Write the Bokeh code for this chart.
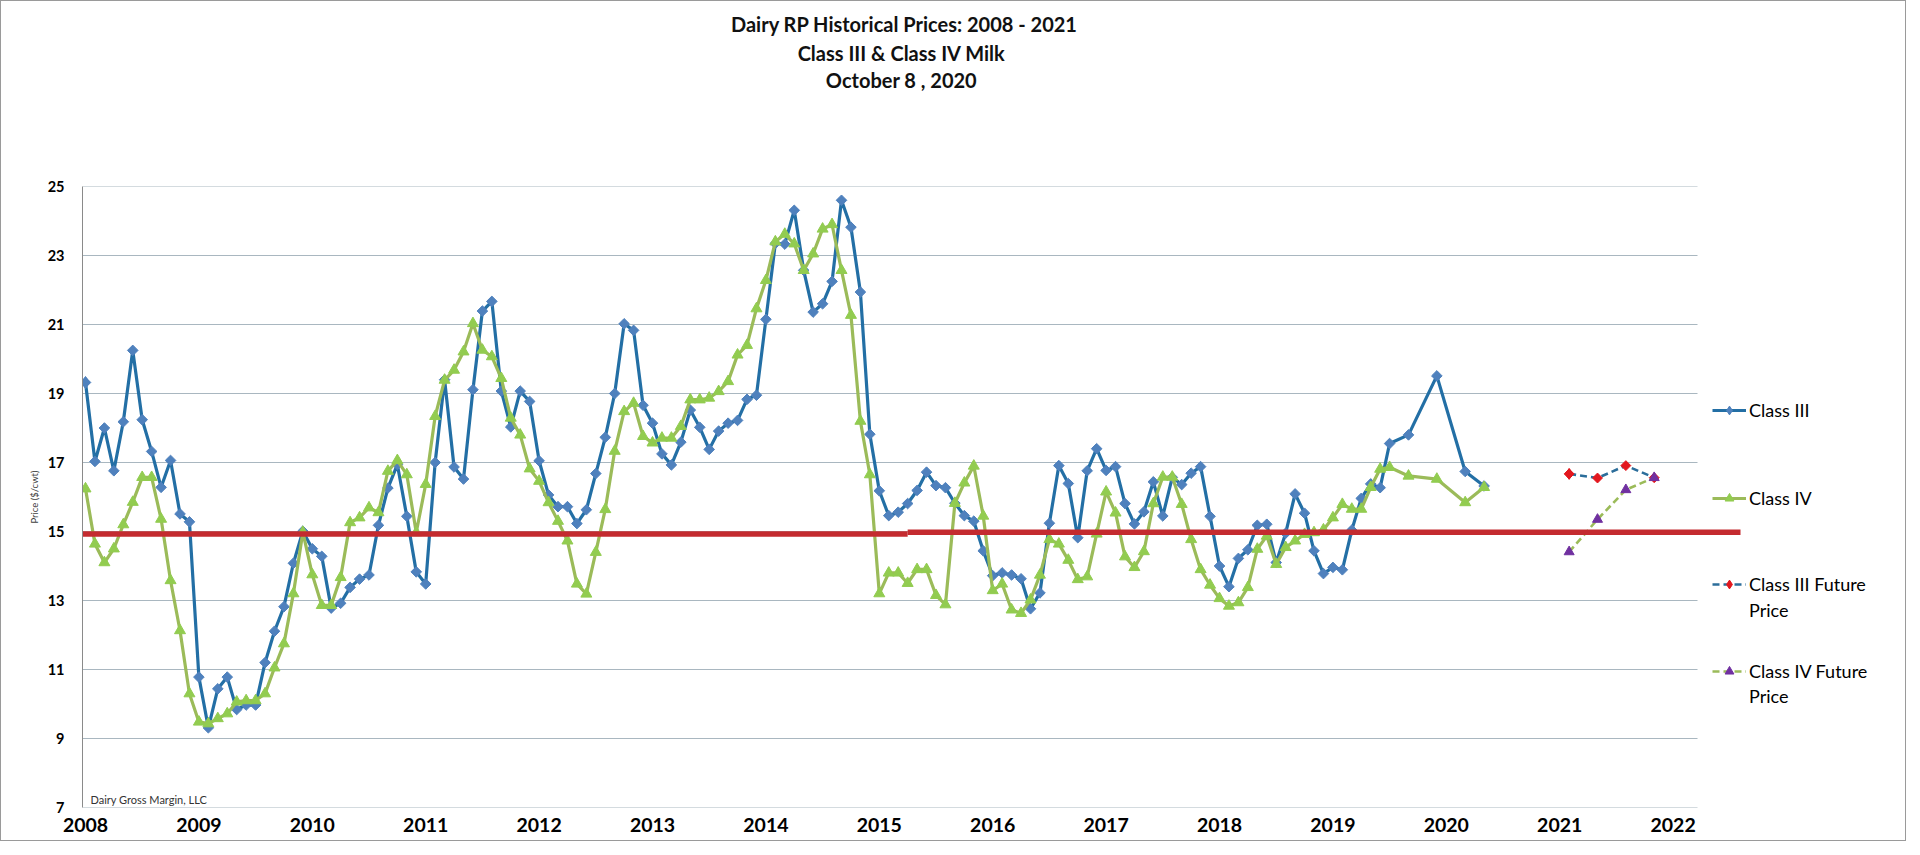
import numpy as np
import pandas as pd
from bokeh.plotting import figure
from bokeh.layouts import column
from bokeh.models import FixedTicker, Legend, LegendItem, Label, Range1d
from bokeh.embed import file_html
from bokeh.resources import INLINE

# ---------------- data ----------------
title_lines = ["Dairy RP Historical Prices: 2008 - 2021",
               "Class III & Class IV Milk",
               "October 8 , 2020"]
credit_text = "Dairy Gross Margin, LLC"
y_axis_title = "Price ($/cwt)"

monthly_first = "2008-01"
monthly_last = "2019-07"

class3_2008 = [19.32, 17.03, 18.00, 16.76, 18.18, 20.25, 18.24, 17.32, 16.28, 17.06, 15.51, 15.28]
class3_2009 = [10.78, 9.31, 10.44, 10.78, 9.84, 9.97, 9.97, 11.20, 12.11, 12.82, 14.08, 15.01]
class3_2010 = [14.50, 14.28, 12.78, 12.92, 13.38, 13.62, 13.74, 15.18, 16.26, 16.94, 15.44, 13.83]
class3_2011 = [13.48, 17.00, 19.40, 16.87, 16.52, 19.11, 21.39, 21.67, 19.07, 18.03, 19.07, 18.77]
class3_2012 = [17.05, 16.06, 15.72, 15.72, 15.23, 15.63, 16.68, 17.73, 19.00, 21.02, 20.83, 18.66]
class3_2013 = [18.14, 17.25, 16.93, 17.59, 18.52, 18.02, 17.38, 17.91, 18.14, 18.22, 18.83, 18.95]
class3_2014 = [21.15, 23.35, 23.33, 24.31, 22.57, 21.36, 21.60, 22.25, 24.60, 23.82, 21.94, 17.82]
class3_2015 = [16.18, 15.46, 15.56, 15.81, 16.19, 16.72, 16.33, 16.27, 15.82, 15.46, 15.30, 14.44]
class3_2016 = [13.72, 13.80, 13.74, 13.63, 12.76, 13.22, 15.24, 16.91, 16.39, 14.82, 16.76, 17.40]
class3_2017 = [16.77, 16.88, 15.81, 15.22, 15.57, 16.44, 15.45, 16.57, 16.36, 16.69, 16.88, 15.44]
class3_2018 = [14.00, 13.40, 14.22, 14.47, 15.18, 15.21, 14.10, 14.95, 16.09, 15.53, 14.44, 13.78]
class3_2019 = [13.96, 13.89, 15.04, 15.96, 16.38, 16.27, 17.55]

class4_2008 = [16.24, 14.64, 14.10, 14.50, 15.20, 15.85, 16.57, 16.57, 15.36, 13.58, 12.13, 10.30]
class4_2009 = [9.48, 9.43, 9.58, 9.72, 10.06, 10.10, 10.10, 10.30, 11.05, 11.75, 13.20, 14.98]
class4_2010 = [13.75, 12.86, 12.86, 13.67, 15.26, 15.40, 15.69, 15.55, 16.75, 17.06, 16.65, 14.97]
class4_2011 = [16.37, 18.34, 19.39, 19.68, 20.21, 21.03, 20.26, 20.07, 19.44, 18.29, 17.80, 16.82]
class4_2012 = [16.46, 15.84, 15.30, 14.73, 13.48, 13.19, 14.40, 15.64, 17.33, 18.48, 18.72, 17.76]
class4_2013 = [17.57, 17.71, 17.71, 18.05, 18.82, 18.82, 18.87, 19.06, 19.35, 20.12, 20.40, 21.46]
class4_2014 = [22.28, 23.40, 23.62, 23.34, 22.57, 23.05, 23.77, 23.90, 22.57, 21.27, 18.20, 16.65]
class4_2015 = [13.20, 13.80, 13.80, 13.50, 13.90, 13.90, 13.15, 12.88, 15.82, 16.41, 16.90, 15.45]
class4_2016 = [13.29, 13.48, 12.73, 12.63, 13.02, 13.74, 14.77, 14.64, 14.17, 13.61, 13.69, 14.93]
class4_2017 = [16.15, 15.54, 14.27, 13.96, 14.42, 15.81, 16.58, 16.58, 15.79, 14.77, 13.90, 13.45]
class4_2018 = [13.06, 12.84, 12.94, 13.38, 14.49, 14.87, 14.05, 14.54, 14.73, 14.92, 14.97, 15.05]
class4_2019 = [15.40, 15.79, 15.65, 15.65, 16.28, 16.81, 16.86]

late_dates = ["2019-09", "2019-12", "2020-03", "2020-05"]
class3_late = [17.80, 19.51, 16.74, 16.32]
class4_late = [16.61, 16.52, 15.84, 16.28]

future_dates = ["2021-02", "2021-05", "2021-08", "2021-11"]
class3_future = [16.67, 16.55, 16.91, 16.56]
class4_future = [14.41, 15.35, 16.21, 16.56]

threshold_break = "2015-04"
threshold_levels = [14.93, 14.98]

x_ticks = list(range(2008, 2023))
x_tick_labels = [str(v) for v in x_ticks]
y_ticks = list(range(7, 26, 2))
y_min, y_max = 7, 25

# ---------------- helpers ----------------
def to_t(d):
    yr, mo = d.split("-")
    return int(yr) + (int(mo) - 1) / 12.0

monthly_dates = [d.strftime("%Y-%m") for d in pd.date_range(monthly_first + "-01", monthly_last + "-01", freq="MS")]
class3_monthly = (class3_2008 + class3_2009 + class3_2010 + class3_2011 + class3_2012 + class3_2013 +
                  class3_2014 + class3_2015 + class3_2016 + class3_2017 + class3_2018 + class3_2019)
class4_monthly = (class4_2008 + class4_2009 + class4_2010 + class4_2011 + class4_2012 + class4_2013 +
                  class4_2014 + class4_2015 + class4_2016 + class4_2017 + class4_2018 + class4_2019)

t_hist = [to_t(d) for d in monthly_dates + late_dates]
v3 = class3_monthly + class3_late
v4 = class4_monthly + class4_late
t_fut = [to_t(d) for d in future_dates]

# ---------------- layout constants (pixels of the whole picture) ----------------
W, H = 1904, 839
TOP25_Y = 185                      # picture y of the value 25
HEAD_H = 173                       # title strip height
MAIN_H = H - HEAD_H
MAIN_TOP = TOP25_Y - HEAD_H        # room above the frame for the "25" label
FRAME_L, FRAME_B = 81, 806         # frame left / bottom in picture pixels
ML, MB = FRAME_L, H - FRAME_B
PX_PER_YEAR = 113.4
X0 = 84.0                          # picture x of Jan 2008
def t_at_x(xp):
    return 2008 + (xp - X0) / PX_PER_YEAR
PX_PER_UNIT = (FRAME_B - TOP25_Y) / float(y_max - y_min)
def val_at_y(yp):
    return y_max + (TOP25_Y - yp) / PX_PER_UNIT
T0, T1 = t_at_x(FRAME_L), t_at_x(W)
GRID_END = t_at_x(1696)
RED_END = t_at_x(1739)

FONT = "Lato"
C3_LINE, C3_MARK = "#236FA5", "#4F81BD"
C4_LINE, C4_MARK = "#9BBB59", "#92CC50"
F3_LINE, F3_MARK = "#2C6E9B", "#E3171E"
F4_LINE, F4_MARK = "#9BBB59", "#7030A0"
RED = "#C42B2F"
GRID = "#A9B7C0"

# ---------------- title strip (pixel coordinates of the picture) ----------------
head = figure(width=W, height=HEAD_H, output_backend="svg", toolbar_location=None,
              x_range=Range1d(FRAME_L, W), y_range=Range1d(HEAD_H, 0),
              x_axis_location=None, y_axis_location=None,
              min_border=0, min_border_left=FRAME_L, min_border_right=0,
              min_border_top=0, min_border_bottom=0)
head.outline_line_color = None
head.xgrid.visible = False
head.ygrid.visible = False
head.border_fill_color = "white"
head.background_fill_color = "white"
for line, cx, cy in zip(title_lines, [903, 900, 900], [22.7, 51.7, 78.3]):
    head.add_layout(Label(x=cx, y=cy, text=line, text_align="center",
                          text_baseline="middle", text_font=FONT, text_font_style="bold",
                          text_font_size="20px", text_color="#111111"))

# ---------------- main chart ----------------
p = figure(width=W, height=MAIN_H, output_backend="svg", toolbar_location=None,
           x_range=Range1d(T0, T1), y_range=Range1d(y_min, y_max),
           min_border_left=ML, min_border_right=0, min_border_top=MAIN_TOP, min_border_bottom=MB)
p.outline_line_color = None
p.xgrid.visible = False
p.ygrid.visible = False
p.background_fill_color = "white"
p.border_fill_color = "white"

p.xaxis.ticker = FixedTicker(ticks=x_ticks)
p.xaxis.major_label_overrides = {t: lab for t, lab in zip(x_ticks, x_tick_labels)}
p.xaxis.axis_line_color = None
p.xaxis.major_tick_line_color = None
p.xaxis.minor_tick_line_color = None
p.xaxis.major_tick_out = 0
p.xaxis.major_tick_in = 0
p.xaxis.major_label_standoff = 10
p.xaxis.major_label_text_font = FONT
p.xaxis.major_label_text_font_style = "bold"
p.xaxis.major_label_text_font_size = "19.5px"
p.xaxis.major_label_text_color = "#000000"

p.yaxis.ticker = FixedTicker(ticks=y_ticks)
p.yaxis.axis_line_color = "#8a8a8a"
p.yaxis.axis_line_width = 1
p.yaxis.major_tick_line_color = None
p.yaxis.minor_tick_line_color = None
p.yaxis.major_tick_out = 0
p.yaxis.major_tick_in = 0
p.yaxis.major_label_standoff = 18
p.yaxis.major_label_text_font = FONT
p.yaxis.major_label_text_font_style = "bold"
p.yaxis.major_label_text_font_size = "14.5px"
p.yaxis.major_label_text_color = "#000000"
p.yaxis.axis_label = y_axis_title
p.yaxis.axis_label_text_font = FONT
p.yaxis.axis_label_text_font_style = "normal"
p.yaxis.axis_label_text_font_size = "9.5px"
p.yaxis.axis_label_text_color = "#404040"
p.yaxis.axis_label_standoff = 5

# gridlines (end before the legend area)
p.segment(x0=[T0] * len(y_ticks), x1=[GRID_END] * len(y_ticks), y0=y_ticks, y1=y_ticks,
          line_color=GRID, line_width=1.2)

# historical series
r3l = p.line(t_hist, v3, line_color=C3_LINE, line_width=3.2)
r3m = p.scatter(t_hist, v3, marker="square", angle=np.pi / 4, size=7.5,
                fill_color=C3_MARK, line_color=C3_MARK)
r4l = p.line(t_hist, v4, line_color=C4_LINE, line_width=3.2)
r4m = p.scatter(t_hist, v4, marker="triangle", size=11,
                fill_color=C4_MARK, line_color=C4_MARK)

# futures
f3l = p.line(t_fut, class3_future, line_color=F3_LINE, line_width=2.6, line_dash="7 4")
f3m = p.scatter(t_fut, class3_future, marker="square", angle=np.pi / 4, size=7,
                fill_color=F3_MARK, line_color=F3_MARK)
f4l = p.line(t_fut, class4_future, line_color=F4_LINE, line_width=2.6, line_dash="7 4")
f4m = p.scatter(t_fut, class4_future, marker="triangle", size=10,
                fill_color=F4_MARK, line_color=F4_MARK)

# break-even line
tb = to_t(threshold_break)
p.segment(x0=[T0, tb], x1=[tb, RED_END], y0=threshold_levels, y1=threshold_levels,
          line_color=RED, line_width=5.5)

# legend glyph stand-ins (diamond shape; drawn on each series' first point)
blank = p.scatter(x=[], y=[], fill_alpha=0, line_alpha=0)
leg_d3 = p.scatter(x=t_hist[:1], y=v3[:1], marker="diamond", size=12,
                   fill_color=C3_MARK, line_color=C3_MARK)
leg_df = p.scatter(x=t_fut[:1], y=class3_future[:1], marker="diamond", size=11,
                   fill_color=F3_MARK, line_color=F3_MARK)

# legends (one per text line, placed like the original)
LEG_X = 1711 - FRAME_L
ITEM_H = 22
def add_leg(label, renderers, cy):
    loc_y = FRAME_B - cy - ITEM_H / 2
    leg = Legend(items=[LegendItem(label=label, renderers=renderers)],
                 location=(LEG_X, loc_y), orientation="vertical",
                 padding=0, margin=0, spacing=0,
                 border_line_color=None, background_fill_alpha=0,
                 glyph_width=34, glyph_height=ITEM_H, label_height=ITEM_H,
                 label_standoff=3, label_text_font=FONT, label_text_font_size="18px",
                 label_text_color="#000000")
    p.add_layout(leg)

add_leg("Class III", [r3l, leg_d3], 409)
add_leg("Class IV", [r4l, r4m], 497)
add_leg("Class III Future", [f3l, leg_df], 583)
add_leg("Price", [blank], 609)
add_leg("Class IV Future", [f4l, f4m], 670)
add_leg("Price", [blank], 695)

# credit text
p.add_layout(Label(x=t_at_x(89), y=val_at_y(798), text=credit_text,
                   text_align="left", text_baseline="middle", text_font=FONT,
                   text_font_size="11px", text_color="#333333"))

layout = column(head, p, spacing=0, styles={"border": "1px solid #9a9a9a"})
open("out.html", "w").write(file_html(layout, INLINE))
